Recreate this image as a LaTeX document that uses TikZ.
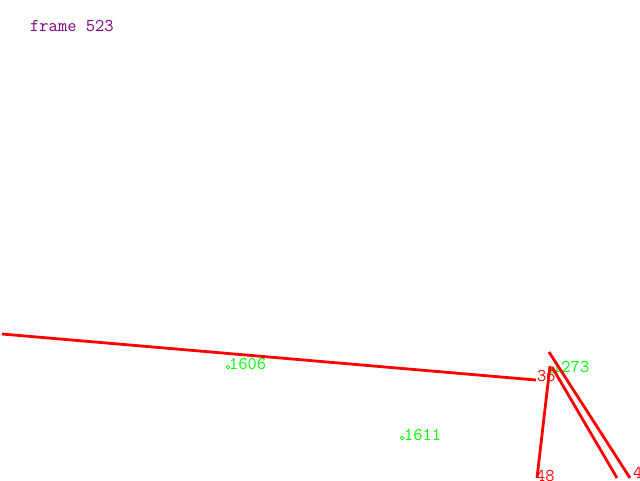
\documentclass[tikz,border=0pt]{standalone}
\usetikzlibrary{shapes.geometric}
\definecolor{lbl}{RGB}{0,255,0}
\definecolor{ttl}{RGB}{128,0,128}
\tikzset{
  seg/.style={draw=red,line width=2.8pt},
  lab/.style={anchor=base west,inner sep=0pt,font=\ttfamily\fontsize{18}{18}\selectfont},
  redlab/.style={lab,text=red},
  grnlab/.style={lab,text=lbl},
  mk/.style={draw=lbl,diamond,inner sep=0pt,minimum size=4pt,line width=0.6pt}
}
\begin{document}
\begin{tikzpicture}[x=1pt,y=-1pt]
\useasboundingbox (0,0) rectangle (640,480);
\node[lab,text=ttl] (title) at (30,31) {frame 523};
% green labels and markers
\node[mk] (m1) at (228,367) {};
\node[grnlab] (g1) at (229,369) {1606};
\node[mk] (m2) at (402,438) {};
\node[grnlab] (g2) at (404,440) {1611};
\node[mk] (m3) at (552,371) {};
\node[grnlab] (g3) at (552,372) {1273};
% endpoints
\coordinate (a1) at (2,334);
\coordinate (a2) at (536,380);
\coordinate (b1) at (549,352);
\coordinate (b2) at (630,478);
\coordinate (c1) at (552,367);
\coordinate (c2) at (617,478);
\coordinate (d1) at (550,366);
\coordinate (d2) at (537,478);
\draw[seg] (a1) -- (a2);
\draw[seg] (b1) -- (b2);
\draw[seg] (c1) -- (c2);
\draw[seg] (d1) -- (d2);
\node[redlab] (r1) at (537,381) {36};
\node[redlab] (r2) at (536,481) {48};
\node[redlab] (r3) at (633,478) {4};
\end{tikzpicture}
\end{document}
